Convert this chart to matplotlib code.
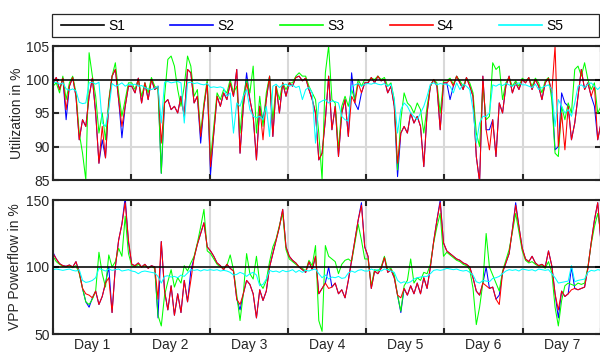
import numpy as np
import matplotlib
matplotlib.use("Agg")
import matplotlib.pyplot as plt
from matplotlib.ticker import FixedLocator, NullFormatter, FixedFormatter
from matplotlib.lines import Line2D
from matplotlib.patches import Rectangle

plt.rcParams['font.family'] = ['Liberation Sans', 'DejaVu Sans']

# ---------------------------------------------------------------- data
day_labels = ['Day 1', 'Day 2', 'Day 3', 'Day 4', 'Day 5', 'Day 6', 'Day 7']
series_names = ['S1', 'S2', 'S3', 'S4', 'S5']
series_colors = ['black', (0, 0, 1), (0, 1, 0), (1, 0, 0), (0, 1, 1)]

# reference level (S1), start and end of the week
s1_hours = [0, 168]
util_s1 = [100.0, 100.0]
flow_s1 = [100.0, 100.0]

# hourly utilization in %
util_s2 = [
    99.5, 100.3, 98.5, 100.2, 94.0, 99.0, 100.3, 97.5, 91.0, 94.0, 93.0, 97.5, 100.2, 95.0, 87.5, 91.0, 88.3, 96.5, 100.5, 101.5, 97.0, 91.3, 96.0, 99.0,
    99.0, 98.0, 100.2, 96.5, 99.5, 97.0, 100.0, 98.5, 99.0, 86.0, 96.5, 97.0, 95.5, 96.0, 95.0, 97.5, 94.5, 101.5, 101.0, 96.5, 97.5, 90.5, 96.0, 99.5,
    85.8, 92.0, 97.5, 96.0, 98.0, 97.0, 99.5, 97.5, 101.5, 89.0, 96.0, 101.0, 97.0, 94.5, 88.0, 96.0, 94.0, 97.0, 100.5, 91.5, 99.0, 95.0, 99.5, 97.5,
    99.5, 99.0, 100.3, 100.5, 99.8, 100.2, 98.5, 97.0, 95.0, 88.0, 89.0, 94.0, 100.5, 92.5, 96.0, 88.5, 95.0, 97.0, 91.5, 101.0, 96.5, 95.5, 98.0, 99.5,
    99.5, 100.3, 99.5, 100.5, 99.8, 100.0, 98.0, 99.0, 96.0, 85.5, 92.0, 93.0, 92.0, 95.0, 93.5, 94.5, 93.0, 87.0, 95.0, 99.0, 100.0, 99.0, 92.5, 99.5,
    99.5, 97.0, 99.0, 100.5, 99.5, 98.5, 100.3, 99.0, 97.5, 88.5, 84.7, 100.5, 92.5, 92.5, 94.0, 88.5, 96.5, 95.0, 99.0, 100.5, 98.0, 99.5, 98.5, 100.0,
    99.5, 100.3, 98.5, 100.0, 99.0, 97.0, 99.5, 100.2, 98.0, 89.5, 90.0, 98.0, 96.5, 96.0, 91.0, 93.5, 97.5, 101.5, 98.5, 99.5, 97.5, 96.0, 91.0, 93.5,
]
util_s3 = [
    99.0, 99.5, 98.0, 100.5, 97.0, 99.5, 100.5, 98.0, 92.0, 89.0, 85.0, 104.0, 100.5, 97.5, 92.0, 95.0, 91.0, 97.0, 100.5, 102.5, 98.0, 94.5, 97.0, 99.5,
    99.5, 98.5, 100.0, 97.5, 99.5, 98.0, 100.3, 99.0, 98.5, 86.0, 97.5, 103.0, 103.5, 102.0, 98.5, 96.0, 99.0, 103.5, 102.0, 97.5, 98.5, 92.0, 96.5, 100.0,
    88.0, 93.0, 98.0, 97.0, 98.5, 98.0, 100.0, 98.0, 99.0, 92.0, 97.5, 100.0, 98.0, 102.0, 92.0, 97.5, 93.0, 98.0, 100.5, 94.0, 99.0, 97.0, 99.5, 98.5,
    99.5, 99.5, 100.5, 101.0, 100.5, 100.5, 99.0, 98.0, 97.0, 92.0, 85.0, 101.0, 105.0, 97.0, 96.5, 89.5, 96.0, 97.5, 96.0, 98.5, 97.0, 100.0, 99.0, 100.0,
    99.8, 100.2, 100.0, 100.5, 100.0, 100.3, 99.0, 99.5, 97.0, 86.5, 94.0, 98.0, 96.5, 96.0, 95.0, 96.5, 95.5, 92.0, 96.0, 99.0, 100.0, 99.5, 95.0, 99.8,
    99.8, 100.2, 99.3, 100.5, 99.8, 99.0, 100.2, 99.5, 98.0, 92.0, 90.0, 99.0, 94.0, 94.5, 102.5, 101.5, 102.0, 97.0, 99.5, 100.3, 99.0, 99.8, 99.0, 100.2,
    99.8, 100.2, 99.0, 100.2, 99.5, 98.0, 99.8, 100.3, 97.0, 89.0, 88.5, 96.0, 94.0, 96.5, 95.0, 101.5, 102.0, 100.5, 102.5, 100.0, 98.5, 99.5, 95.0, 96.0,
]
util_s4 = [
    99.5, 100.3, 98.5, 100.2, 95.5, 99.0, 100.3, 97.5, 91.0, 94.0, 93.0, 97.5, 100.2, 95.0, 87.5, 93.0, 88.3, 96.5, 100.5, 101.5, 97.0, 93.0, 96.0, 99.0,
    99.0, 98.0, 100.2, 96.5, 99.5, 97.0, 100.0, 98.5, 99.0, 90.5, 96.5, 97.0, 95.5, 96.0, 95.0, 97.5, 94.5, 101.5, 101.0, 96.5, 97.5, 91.5, 96.0, 99.5,
    87.0, 92.0, 97.5, 96.0, 98.0, 97.0, 99.5, 97.5, 101.5, 89.0, 96.0, 99.5, 97.0, 94.5, 88.0, 96.0, 91.0, 97.0, 100.5, 91.5, 99.0, 95.0, 99.5, 97.5,
    99.5, 99.0, 100.3, 100.5, 99.8, 100.2, 98.5, 97.0, 95.0, 88.0, 89.0, 94.0, 100.5, 92.5, 96.0, 88.5, 95.0, 97.0, 91.5, 97.5, 96.5, 99.5, 98.0, 99.5,
    99.5, 100.3, 99.5, 100.5, 99.8, 100.0, 98.0, 99.0, 96.0, 87.5, 92.0, 93.0, 92.0, 95.0, 93.5, 94.5, 93.0, 87.0, 95.0, 99.0, 100.0, 99.0, 92.5, 99.5,
    99.5, 100.0, 99.0, 100.5, 99.5, 98.5, 100.3, 99.0, 97.5, 88.5, 84.7, 100.5, 92.5, 89.5, 94.0, 88.5, 96.5, 95.0, 99.0, 100.5, 98.0, 99.5, 98.5, 100.0,
    99.5, 100.3, 98.5, 100.0, 99.0, 97.0, 99.5, 100.2, 98.0, 105.0, 90.0, 95.0, 89.5, 96.0, 91.0, 93.5, 97.5, 101.5, 98.5, 99.5, 97.5, 99.0, 91.0, 93.5,
]
util_s5 = [
    99.5, 99.6, 99.3, 99.5, 98.6, 98.4, 98.6, 98.3, 96.6, 96.4, 96.5, 99.5, 99.6, 99.3, 99.6, 93.5, 93.0, 95.5, 99.4, 99.0, 99.2, 99.5, 99.0, 99.3,
    99.2, 99.3, 99.0, 99.1, 98.8, 98.6, 98.5, 98.7, 99.0, 93.5, 99.6, 99.7, 99.5, 99.6, 99.7, 99.5, 93.5, 99.5, 99.6, 99.4, 99.5, 99.3, 99.2, 99.4,
    98.8, 98.9, 98.8, 98.9, 98.7, 97.5, 98.0, 92.0, 96.5, 96.0, 97.5, 98.5, 95.5, 94.5, 94.3, 94.5, 94.0, 96.0, 91.5, 99.0, 99.3, 98.8, 99.2, 99.3,
    99.0, 99.2, 98.8, 99.0, 97.0, 98.5, 98.8, 98.0, 90.5, 96.5, 96.8, 97.0, 96.5, 96.8, 96.7, 96.5, 94.5, 94.0, 93.8, 99.0, 99.2, 99.4, 99.0, 99.3,
    99.4, 99.3, 99.5, 99.3, 99.2, 99.4, 99.0, 99.3, 97.0, 92.0, 95.5, 96.5, 96.0, 95.0, 94.5, 94.0, 95.0, 96.0, 97.5, 99.3, 99.5, 99.2, 99.4, 99.3,
    99.3, 99.0, 98.0, 99.5, 98.5, 99.3, 99.0, 98.5, 95.5, 90.5, 93.5, 94.5, 94.5, 95.0, 99.2, 99.0, 99.3, 99.1, 99.4, 99.2, 99.0, 99.3, 99.5, 99.2,
    99.2, 99.0, 98.8, 99.3, 98.5, 98.8, 99.0, 99.2, 98.5, 93.0, 97.0, 96.0, 95.0, 95.5, 94.5, 96.5, 99.0, 99.2, 98.8, 99.3, 99.5, 99.0, 98.5, 99.0,
]

# hourly VPP power flow in %
flow_s2 = [
    111, 106, 102.5, 101, 100.5, 101.5, 100, 104, 96, 84, 74, 70, 77, 82, 72, 78, 88, 100, 66, 100, 120, 132, 152, 118,
    102, 101, 103, 100, 102, 99, 101, 100, 62, 119, 82, 68, 86, 64, 80, 66, 90, 74, 97, 107, 117, 125, 133, 115,
    112, 108, 103, 101, 98, 102, 99, 97, 76, 68, 80, 90, 87, 80, 62, 83, 75, 82, 100, 110, 120, 130, 143, 115,
    108, 105, 103, 100, 98, 96, 104, 98, 108, 80, 84, 88, 100, 85, 88, 80, 83, 77, 90, 105, 120, 135, 148, 115,
    108, 84, 97, 95, 99, 107, 96, 98, 92, 79, 66, 84, 79, 86, 80, 88, 80, 92, 84, 100, 119, 135, 150, 118,
    112, 110, 108, 106, 105, 103, 102, 100, 92, 82, 79, 88, 100, 84, 85, 76, 79, 96, 103, 110, 128, 148, 130, 114,
    106, 104, 108, 103, 101, 102, 100, 112, 101, 80, 62, 82, 78, 80, 100, 84, 83, 84, 85, 99, 118, 135, 148, 118,
]
flow_s3 = [
    108, 104, 102, 100.5, 100, 101, 99.5, 101, 95, 84, 74, 72, 76, 82, 111, 95, 85, 109, 100, 104, 114, 108, 138, 110,
    101, 100, 102, 100, 101, 99.5, 100.5, 99, 64, 56, 79, 89, 98, 85, 92, 88, 101, 97, 103, 108, 118, 130, 143, 112,
    110, 106, 102, 100, 99, 101, 109, 98, 79, 60, 80, 110, 95, 91, 108, 88, 84, 90, 104, 115, 121, 131, 140, 113,
    106, 104, 102, 100, 99, 97, 105, 101, 116, 60, 52, 116, 108, 106, 104, 95, 102, 105, 106, 104, 118, 132, 120, 106,
    106, 86, 98, 97, 100, 108, 98, 99, 94, 79, 67, 86, 90, 106, 88, 92, 90, 96, 95, 102, 118, 130, 140, 108,
    111, 109, 107, 105, 104, 102, 101, 98, 84, 57, 70, 88, 125, 100, 94, 88, 82, 97, 105, 113, 126, 140, 126, 112,
    105, 103, 104, 102, 100.5, 101, 99, 104, 96, 70, 56, 75, 86, 88, 87, 86, 88, 87, 88, 100, 117, 130, 140, 125,
]
flow_s4 = [
    110, 106, 102.5, 101, 100.5, 101.5, 100, 104, 96, 84, 80, 79, 77, 82, 72, 78, 88, 92, 66, 100, 120, 132, 148, 120,
    102, 101, 103, 100, 102, 99, 101, 100, 76, 119, 82, 68, 86, 64, 80, 66, 90, 74, 90, 107, 117, 125, 133, 115,
    112, 108, 103, 101, 98, 102, 99, 97, 76, 72, 80, 90, 87, 80, 62, 83, 75, 82, 100, 110, 120, 130, 143, 115,
    108, 105, 103, 100, 98, 96, 104, 98, 108, 80, 84, 88, 84, 85, 88, 80, 83, 77, 90, 105, 120, 135, 146, 115,
    108, 84, 97, 95, 99, 107, 96, 98, 92, 79, 77, 84, 79, 86, 80, 88, 80, 92, 84, 100, 119, 135, 148, 118,
    112, 110, 108, 106, 105, 103, 102, 100, 92, 82, 79, 88, 86, 84, 85, 76, 72, 96, 103, 110, 128, 146, 130, 114,
    106, 104, 108, 103, 101, 102, 100, 112, 101, 80, 68, 82, 78, 80, 83, 84, 83, 84, 85, 99, 118, 135, 148, 118,
]
flow_s5 = [
    98, 98.5, 98, 97.5, 98, 98.5, 97.5, 97, 98, 90, 88.5, 89, 90, 92, 99, 98, 97, 98.5, 97.5, 98, 98.5, 97, 97.5, 98,
    97, 96.5, 95, 96.5, 97, 96.5, 96, 95.5, 93, 88, 93, 93.5, 92.5, 93, 92, 94, 93, 95.5, 98, 97.5, 98, 97, 98, 97.5,
    98, 97.5, 98, 97, 97.5, 97, 96, 94, 94.5, 96, 95, 93, 95, 96, 94, 86, 87, 91, 97.5, 96.5, 97, 96, 97.5, 96.5,
    97, 98, 96, 97.5, 96, 97.5, 97, 98, 98.5, 95, 92, 94, 91, 92.5, 92, 93, 91.5, 92, 95.5, 97, 96, 97.5, 98, 97,
    97, 98.5, 97.5, 98, 97, 98.5, 98, 97, 96, 90, 88, 89, 88, 89, 91, 92, 92.5, 93, 93, 95, 97.5, 98, 97.5, 98,
    99, 98.5, 98, 98.5, 97.5, 97, 97.5, 96, 94, 89, 88, 90, 89.5, 89, 91.5, 92, 93, 95, 97, 98, 97.5, 98, 97, 98.5,
    98, 97.5, 98, 97, 98.5, 98, 97.5, 98, 95, 92, 88, 88.5, 89, 89.5, 101, 89, 90, 90.5, 91, 96, 97.5, 97, 98, 97.5,
]

# ---------------------------------------------------------------- figure
hours = np.linspace(0, 168, len(util_s2))
day_edges = np.arange(0, 169, 24)
day_centres = day_edges[:-1] + 12

W, H = 600, 352
fig = plt.figure(figsize=(W / 100, H / 100), dpi=100)
ax_top = fig.add_axes([53 / W, 1 - 180 / H, 548 / W, 134 / H])
ax_bot = fig.add_axes([53 / W, 1 - 334 / H, 548 / W, 134 / H])

spine_col = '#262626'
grid_col = '#d9d9d9'


def draw_panel(ax, s1, s2, s3, s4, s5):
    for vals, col in zip([s2, s3, s4, s5], series_colors[1:]):
        ax.plot(hours, vals, color=col, lw=0.75, zorder=2)
    ax.plot(s1_hours, s1, color=series_colors[0], lw=1.1, zorder=3)
    ax.set_xlim(0, 168)
    ax.xaxis.set_major_locator(FixedLocator(day_edges))
    ax.xaxis.set_major_formatter(NullFormatter())
    ax.xaxis.set_minor_locator(FixedLocator(day_centres))
    ax.set_axisbelow(True)
    ax.grid(True, which='major', color=grid_col, lw=1.5)
    for sp in ax.spines.values():
        sp.set_color(spine_col)
        sp.set_linewidth(1.5)
    ax.tick_params(which='major', direction='in', length=4, width=1.5,
                   color=spine_col, top=True, right=True, labelsize=10,
                   pad=2.5, labelcolor='#262626')
    ax.tick_params(which='minor', length=0, top=False, labelsize=10,
                   labelcolor='#262626', pad=3)


draw_panel(ax_top, util_s1, util_s2, util_s3, util_s4, util_s5)
ax_top.set_ylim(85, 105)
ax_top.set_yticks([85, 90, 95, 100, 105])
ax_top.xaxis.set_minor_formatter(NullFormatter())
ax_top.set_ylabel('Utilization in %', fontsize=10, color='#262626', labelpad=2)

draw_panel(ax_bot, flow_s1, flow_s2, flow_s3, flow_s4, flow_s5)
ax_bot.set_ylim(50, 150)
ax_bot.set_yticks([50, 100, 150])
ax_bot.xaxis.set_minor_formatter(FixedFormatter(day_labels))
ax_bot.set_ylabel('VPP Powerflow in %', fontsize=10, color='#262626', labelpad=3)

# legend box spanning the plot width, entries in equal-width columns
fig.patches.append(Rectangle((52 / W, 1 - 37 / H), 547 / W, 23 / H,
                             transform=fig.transFigure, facecolor='white',
                             edgecolor=spine_col, lw=0.9, zorder=1))
handles = [Line2D([], [], color=c, lw=1.2) for c in series_colors]
fs_px = 10 * 100 / 72
leg = fig.legend(handles, series_names, loc='center left',
                 bbox_to_anchor=(61 / W, 1 - 25.5 / H),
                 ncol=5, fontsize=10, frameon=False,
                 borderaxespad=0, borderpad=0,
                 handlelength=43 / fs_px, handletextpad=4 / fs_px,
                 columnspacing=45.5 / fs_px)
leg.set_zorder(2)

fig.savefig('out.png', dpi=100)
